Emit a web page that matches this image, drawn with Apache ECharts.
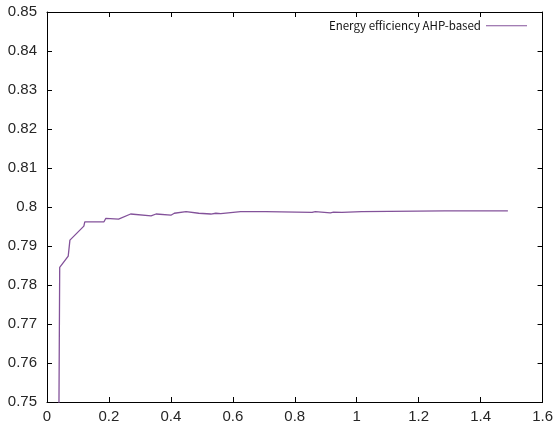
<!DOCTYPE html>
<html>
<head>
<meta charset="utf-8">
<script src="https://cdn.jsdelivr.net/npm/echarts@6/dist/echarts.min.js"></script>
<style>
  html, body { margin: 0; padding: 0; background: #fff; }
  #chart { width: 556px; height: 429px; }
</style>
</head>
<body>
<div id="chart"></div>
<script>
// data
var seriesName = 'Energy efficiency AHP-based';
var xValues = [0.038, 0.041, 0.0685, 0.074, 0.119, 0.122, 0.184, 0.19, 0.231, 0.27, 0.336, 0.352, 0.40, 0.411, 0.449, 0.49, 0.529, 0.545, 0.561, 0.625, 0.706, 0.712, 0.856, 0.866, 0.915, 0.925, 0.952, 1.016, 1.284, 1.488];
var yValues = [0.74, 0.7845, 0.7874, 0.7915, 0.7951, 0.7962, 0.7962, 0.7971, 0.7969, 0.7982, 0.7977, 0.7982, 0.7979, 0.7984, 0.7988, 0.7984, 0.7982, 0.7984, 0.7983, 0.7988, 0.7988, 0.7986, 0.7986, 0.7988, 0.7985, 0.7987, 0.7986, 0.7988, 0.7990, 0.7990];
var xTicks = { min: 0, max: 1.6, interval: 0.2 };
var yTicks = { min: 0.75, max: 0.85, interval: 0.01 };

var pts = [];
for (var i = 0; i < xValues.length; i++) {
  pts.push([xValues[i], yValues[i]]);
}

var lineColor = '#83529a';
var labelStyle = { color: '#262626', fontSize: 15, fontFamily: 'Liberation Sans' };
var frame = { show: true, onZero: false, lineStyle: { color: '#000', width: 1 } };
var tick = { show: true, inside: true, length: 5, lineStyle: { color: '#000' } };

var option = {
  animation: false,
  backgroundColor: '#fff',
  grid: { left: 47, right: 11, top: 12, bottom: 27 },
  legend: {
    data: [seriesName],
    right: 24,
    top: 15,
    align: 'right',
    icon: 'rect',
    itemWidth: 41,
    itemHeight: 1,
    itemGap: 3,
    textStyle: { color: '#111', fontSize: 11.5, fontFamily: 'Noto Sans CJK SC' }
  },
  xAxis: [{
    type: 'value',
    min: xTicks.min, max: xTicks.max, interval: xTicks.interval,
    axisLine: frame,
    axisTick: tick,
    axisLabel: Object.assign({ margin: 7, formatter: function (v) { return +v.toFixed(1) + ''; } }, labelStyle),
    splitLine: { show: false }
  }, {
    type: 'value', position: 'top',
    min: xTicks.min, max: xTicks.max, interval: xTicks.interval,
    axisLine: frame,
    axisTick: tick,
    axisLabel: { show: false },
    splitLine: { show: false }
  }],
  yAxis: [{
    type: 'value',
    min: yTicks.min, max: yTicks.max, interval: yTicks.interval,
    axisLine: frame,
    axisTick: tick,
    axisLabel: Object.assign({ margin: 10, formatter: function (v) { return +v.toFixed(2) + ''; } }, labelStyle),
    splitLine: { show: false }
  }, {
    type: 'value', position: 'right',
    min: yTicks.min, max: yTicks.max, interval: yTicks.interval,
    axisLine: frame,
    axisTick: tick,
    axisLabel: { show: false },
    splitLine: { show: false }
  }],
  series: [{
    name: seriesName,
    type: 'line',
    data: pts,
    showSymbol: false,
    clip: true,
    itemStyle: { color: lineColor },
    lineStyle: { color: lineColor, width: 1.3 }
  }]
};

var myChart = echarts.init(document.getElementById('chart'));
myChart.setOption(option);
</script>
</body>
</html>
